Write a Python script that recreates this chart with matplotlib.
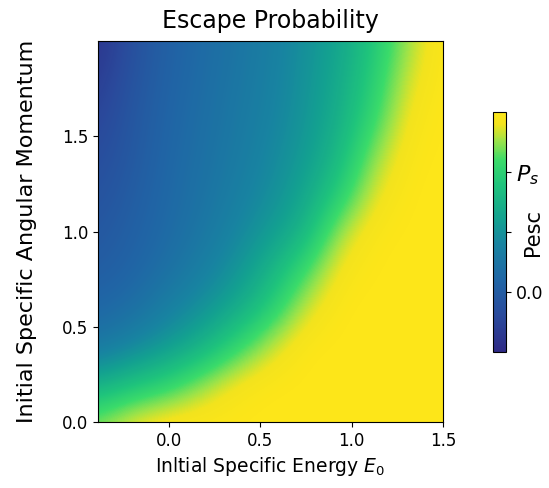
import numpy as np
import matplotlib
matplotlib.use("Agg")
import matplotlib.pyplot as plt
from matplotlib.colors import LinearSegmentedColormap

# Grid of sample points (cell centres)
energy = [-0.40, -0.21, -0.02, 0.17, 0.36, 0.55, 0.74, 0.93, 1.12, 1.31, 1.50]
ang_mom = [0.0, 0.2, 0.4, 0.6, 0.8, 1.0, 1.2, 1.4, 1.6, 1.8, 2.0]

# escape probability (colour fraction), rows = ang_mom (bottom -> top)
p_esc = [
    [0.86, 0.96, 1.00, 1.00, 1.00, 1.00, 1.00, 1.00, 1.00, 1.00, 1.00],
    [0.60, 0.68, 0.75, 0.87, 0.97, 1.00, 1.00, 1.00, 1.00, 1.00, 1.00],
    [0.38, 0.45, 0.52, 0.61, 0.76, 0.91, 1.00, 1.00, 1.00, 1.00, 1.00],
    [0.30, 0.34, 0.42, 0.49, 0.58, 0.72, 0.92, 1.00, 1.00, 1.00, 1.00],
    [0.25, 0.29, 0.35, 0.42, 0.50, 0.62, 0.79, 0.97, 1.00, 1.00, 1.00],
    [0.22, 0.27, 0.32, 0.38, 0.45, 0.53, 0.63, 0.89, 0.99, 1.00, 1.00],
    [0.19, 0.25, 0.31, 0.36, 0.42, 0.48, 0.57, 0.73, 0.94, 1.00, 1.00],
    [0.16, 0.23, 0.30, 0.35, 0.40, 0.46, 0.53, 0.65, 0.87, 0.99, 1.00],
    [0.12, 0.22, 0.29, 0.34, 0.39, 0.44, 0.51, 0.61, 0.78, 0.97, 1.00],
    [0.08, 0.20, 0.28, 0.33, 0.38, 0.43, 0.50, 0.59, 0.74, 0.93, 1.00],
    [0.04, 0.18, 0.27, 0.32, 0.37, 0.42, 0.49, 0.57, 0.71, 0.89, 1.00],
]

xticks = [0.0, 0.5, 1.0, 1.5]
yticks = [0.0, 0.5, 1.0, 1.5]
cbar_ticks = [0.25, 0.5, 0.75]
cbar_ticklabels = ["0.0", "", "$P_s$"]

cmap = LinearSegmentedColormap.from_list("esc", [
    (0.00, "#2f2a86"),
    (0.15, "#2a4a9c"),
    (0.30, "#2066a6"),
    (0.45, "#1884a1"),
    (0.55, "#13a091"),
    (0.70, "#1fc47c"),
    (0.80, "#3bdb6a"),
    (0.88, "#9ae34a"),
    (0.95, "#f2e31e"),
    (1.00, "#fde619"),
])

fig = plt.figure(figsize=(5.49, 4.88), dpi=100)
ax = fig.add_axes([0.1785, 0.135, 0.6285, 0.781])

E = np.array(energy)
L = np.array(ang_mom)
dx = E[1] - E[0]
dy = L[1] - L[0]
im = ax.imshow(np.array(p_esc), origin="lower", cmap=cmap, vmin=0, vmax=1,
               extent=(E[0] - dx / 2, E[-1] + dx / 2, L[0] - dy / 2, L[-1] + dy / 2),
               aspect="auto", interpolation="bicubic")
ax.set_xlim(-0.39, 1.5)
ax.set_ylim(0.0, 2.0)
ax.set_xticks(xticks)
ax.set_yticks(yticks)
ax.tick_params(labelsize=12)
ax.set_title("Escape Probability", fontsize=17, pad=9)
ax.set_xlabel("Inltial Specific Energy $E_0$", fontsize=13.5)
ax.set_ylabel("Initial Specific Angular Momentum", fontsize=16, labelpad=18)

cax = fig.add_axes([0.898, 0.279, 0.024, 0.491])
cb = fig.colorbar(im, cax=cax)
cb.set_ticks(cbar_ticks)
cb.set_ticklabels(cbar_ticklabels)
cb.ax.tick_params(labelsize=12.5)
for lbl in cb.ax.get_yticklabels():
    if lbl.get_text() == "$P_s$":
        lbl.set_fontsize(16)
cb.set_label("Pesc", fontsize=15)
cb.ax.yaxis.set_label_coords(2.3, 0.5)

fig.savefig("out.png", dpi=100)
